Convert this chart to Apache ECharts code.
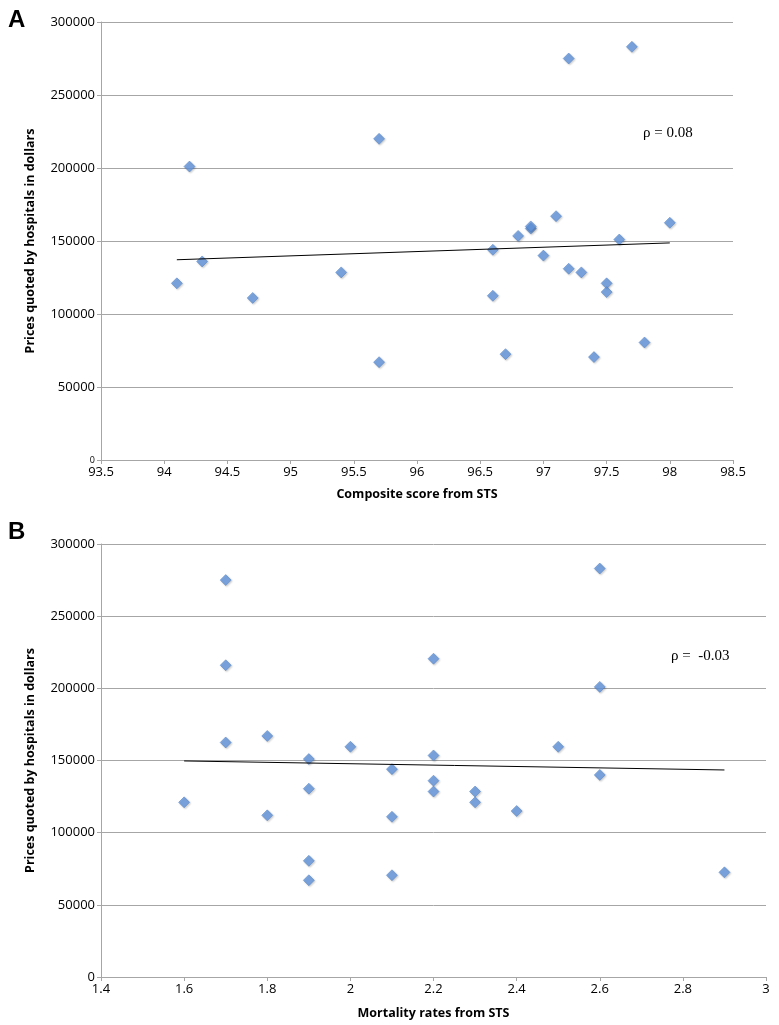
<!DOCTYPE html>
<html>
<head>
<meta charset="utf-8">
<script src="https://cdn.jsdelivr.net/npm/echarts@6/dist/echarts.min.js"></script>
<style>
html,body{margin:0;padding:0;background:#fff;}
#main{width:779px;height:1025px;}
</style>
</head>
<body>
<div id="main"></div>
<script>
// panel A: composite score vs price
var scoreA = [94.1, 94.2, 94.3, 94.7, 95.4, 95.7, 95.7, 96.6, 96.6, 96.7, 96.8, 96.9, 96.9, 97.0, 97.1, 97.2, 97.2, 97.3, 97.4, 97.5, 97.5, 97.6, 97.7, 97.8, 98.0];
var priceA = [121000, 201000, 136000, 111000, 128500, 220000, 67000, 112500, 144000, 72500, 153500, 158500, 160000, 140000, 167000, 275000, 131000, 128500, 70500, 121000, 115000, 151000, 283000, 80500, 162500];
// panel B: mortality vs price
var mortB = [1.6, 1.7, 1.7, 1.7, 1.8, 1.8, 1.9, 1.9, 1.9, 1.9, 2.0, 2.1, 2.1, 2.1, 2.2, 2.2, 2.2, 2.2, 2.3, 2.3, 2.4, 2.5, 2.6, 2.6, 2.6, 2.9];
var priceB = [121000, 275000, 216000, 162500, 167000, 112000, 151000, 130500, 80500, 67000, 159500, 144000, 111000, 70500, 220500, 153500, 136000, 128500, 128500, 121000, 115000, 159500, 283000, 201000, 140000, 72500];
var yTicks = [0, 50000, 100000, 150000, 200000, 250000, 300000];
var rhoA = 'ρ = 0.08', rhoB = 'ρ =  -0.03';

function pairs(xs, ys){
	var out = [];
	for(var i=0;i<xs.length;i++) out.push([xs[i], ys[i]]);
	return out;
}
// least squares line between min and max x
function trend(xs, ys){
	var n = xs.length, sx=0, sy=0, sxx=0, sxy=0;
	for(var i=0;i<n;i++){ sx+=xs[i]; sy+=ys[i]; sxx+=xs[i]*xs[i]; sxy+=xs[i]*ys[i]; }
	var b = (n*sxy - sx*sy)/(n*sxx - sx*sx), a = (sy - b*sx)/n;
	var x0 = Math.min.apply(null, xs), x1 = Math.max.apply(null, xs);
	return [[x0, a+b*x0], [x1, a+b*x1]];
}

var labelFont = {color:'#000', fontFamily:'Open Sans', fontSize:13};
var nameFont = {color:'#000', fontFamily:'Open Sans', fontSize:12.5, fontWeight:'bold'};
var gray = '#a6a6a6';

function xAxis(idx, min, max, step, name, gap){
	return {
		type:'value', gridIndex:idx, min:min, max:max, interval:step,
		name:name, nameLocation:'middle', nameGap:gap, nameTextStyle:nameFont,
		axisLine:{lineStyle:{color:gray}}, axisTick:{show:true, length:4, lineStyle:{color:gray}},
		axisLabel:Object.assign({margin:6, formatter:function(v){ return String(+v.toFixed(2)); }}, labelFont),
		splitLine:{show:false}
	};
}
function yAxis(idx, name, smallZero){
	return {
		type:'value', gridIndex:idx, min:yTicks[0], max:yTicks[yTicks.length-1], interval:yTicks[1]-yTicks[0],
		name:name, nameLocation:'middle', nameGap:64, nameTextStyle:nameFont,
		axisLine:{show:true, lineStyle:{color:gray}}, axisTick:{show:true, length:4, lineStyle:{color:gray}},
		axisLabel:Object.assign({margin:6, formatter:function(v){
			return (smallZero && v === 0) ? '{s|0}' : String(v);
		}, rich:{s:{fontSize:9, fontFamily:'Open Sans', color:'#000'}}}, labelFont),
		splitLine:{lineStyle:{color:gray, width:1}}
	};
}
var dot = {color:'#6396df', borderColor:'#4a7cc4', borderWidth:0.6, shadowColor:'rgba(0,0,0,0.25)', shadowBlur:2, shadowOffsetX:1, shadowOffsetY:1};

var option = {
	backgroundColor:'#fff',
	animation:false,
	grid:[
		{left:101, top:22, right:46, height:438},
		{left:101, top:544, right:13, height:433}
	],
	xAxis:[ xAxis(0, 93.5, 98.5, 0.5, 'Composite score from STS', 28), xAxis(1, 1.4, 3, 0.2, 'Mortality rates from STS', 30) ],
	yAxis:[ yAxis(0, 'Prices quoted by hospitals in dollars', true), yAxis(1, 'Prices quoted by hospitals in dollars', false) ],
	graphic:[
		{type:'text', left:8, top:8, style:{text:'A', font:'bold 24px Liberation Sans', fill:'#000'}},
		{type:'text', left:8, top:520, style:{text:'B', font:'bold 24px Liberation Sans', fill:'#000'}},
		{type:'text', left:643, top:126, style:{text:rhoA, font:'15px Liberation Serif', fill:'#000'}},
		{type:'text', left:671, top:649, style:{text:rhoB, font:'15px Liberation Serif', fill:'#000'}}
	],
	series:[
		{type:'line', xAxisIndex:0, yAxisIndex:0, data:trend(scoreA, priceA), symbol:'none', lineStyle:{color:'#000', width:1}, z:3},
		{type:'scatter', xAxisIndex:0, yAxisIndex:0, data:pairs(scoreA, priceA), symbol:'diamond', symbolSize:11, itemStyle:dot, z:2},
		{type:'line', xAxisIndex:1, yAxisIndex:1, data:trend(mortB, priceB), symbol:'none', lineStyle:{color:'#000', width:1}, z:3},
		{type:'scatter', xAxisIndex:1, yAxisIndex:1, data:pairs(mortB, priceB), symbol:'diamond', symbolSize:11, itemStyle:dot, z:2}
	]
};
var myChart = echarts.init(document.getElementById('main'));
myChart.setOption(option);
</script>
</body>
</html>
